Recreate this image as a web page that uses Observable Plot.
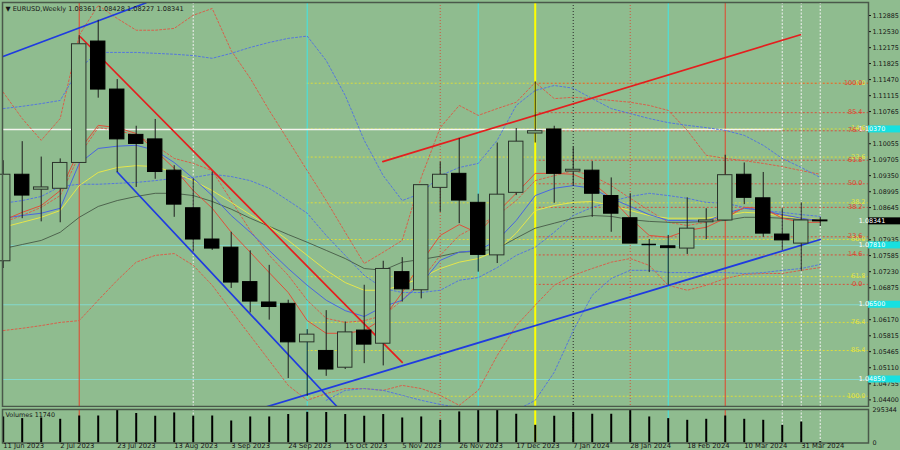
<!DOCTYPE html>
<html><head><meta charset="utf-8">
<script src="https://cdn.jsdelivr.net/npm/d3@7"></script>
<script src="https://cdn.jsdelivr.net/npm/@observablehq/plot@0.6"></script>
<style>
html,body{margin:0;padding:0;background:#8FBC8F;}
#wrap{position:relative;width:900px;height:450px;overflow:hidden;background:#8FBC8F;}
#main,#vol{position:absolute;left:0;}
#main{top:0}
#vol{top:407px}
svg{display:block;overflow:visible}
</style></head><body><div id="wrap"><div id="main"></div><div id="vol"></div></div>
<script>
// ---------- DATA (weekly EURUSD, bar 0 = week of 11 Jun 2023) ----------
const open  = [1.0746,1.0937,1.0904,1.0906,1.0963,1.1231,1.1125,1.1025,1.1015,1.0946,1.0863,1.0794,1.0776,1.0700,1.0655,1.0652,1.0567,1.0548,1.0511,1.0593,1.0564,1.0722,1.0682,1.0908,1.0939,1.0875,1.0759,1.0897,1.1028,1.1037,1.0944,1.0946,1.0890,1.0841,1.0783,1.0779,1.0774,1.0832,1.0836,1.0937,1.0885,1.0805,1.0785,1.08361];
const high  = [1.0968,1.1010,1.0976,1.0972,1.1244,1.1278,1.1147,1.1044,1.1059,1.0957,1.0928,1.0943,1.0810,1.0769,1.0737,1.0660,1.0595,1.0637,1.0612,1.0693,1.0746,1.0754,1.0914,1.0965,1.1017,1.0894,1.1007,1.1039,1.1142,1.1044,1.0998,1.0966,1.0930,1.0895,1.0794,1.0803,1.0886,1.0862,1.0980,1.0963,1.0942,1.0862,1.0875,1.08428];
const low   = [1.0730,1.0840,1.0833,1.0831,1.0962,1.1106,1.0942,1.0909,1.0927,1.0843,1.0766,1.0770,1.0686,1.0632,1.0616,1.0487,1.0448,1.0492,1.0507,1.0520,1.0515,1.0656,1.0663,1.0854,1.0829,1.0722,1.0741,1.0891,1.1007,1.0874,1.0911,1.0843,1.0810,1.0785,1.0721,1.0693,1.0761,1.0794,1.0835,1.0871,1.0799,1.0770,1.0724,1.08227];
const close = [1.0937,1.0891,1.0909,1.0963,1.1225,1.1125,1.1015,1.1005,1.0943,1.0871,1.0794,1.0774,1.0699,1.0657,1.0645,1.0567,1.0584,1.0507,1.0589,1.0562,1.0729,1.0684,1.0914,1.0937,1.0880,1.0760,1.0893,1.1010,1.1033,1.0939,1.0948,1.0895,1.0851,1.0785,1.0783,1.0775,1.0818,1.0836,1.0936,1.0886,1.0807,1.0792,1.0836,1.08341];
const volume = [229500,215000,220600,209000,238000,238000,294000,260000,236000,265000,236000,238000,194000,229500,229500,251000,271000,269000,251000,236000,251000,220600,229500,200000,274000,289000,295344,253500,156000,236000,269000,253500,253500,289000,229500,215000,200000,209000,238000,209000,200000,156000,185000,11740];

// indicator lines
const maRed    = [1.0836,1.0854,1.0869,1.0902,1.0991,1.1046,1.1041,1.1028,1.0991,1.0951,1.0902,1.0863,1.0810,1.0766,1.0721,1.0677,1.0615,1.0587,1.0587,1.0593,1.0620,1.0677,1.0744,1.0803,1.0827,1.0808,1.0854,1.0896,1.0940,1.0940,1.0938,1.0920,1.0885,1.0841,1.0803,1.0799,1.0814,1.0821,1.0841,1.0865,1.0863,1.0841,1.0832,1.0832];
const maBlue   = [1.0841,1.0847,1.0852,1.0863,1.0962,1.0995,1.1000,1.1002,1.0991,1.0964,1.0929,1.0891,1.0847,1.0810,1.0770,1.0730,1.0693,1.0660,1.0637,1.0624,1.0646,1.0660,1.0697,1.0748,1.0766,1.0770,1.0792,1.0836,1.0891,1.0907,1.0913,1.0907,1.0885,1.0867,1.0849,1.0836,1.0836,1.0834,1.0852,1.0863,1.0858,1.0849,1.0841,1.0836];
const maYellow = [1.0821,1.0832,1.0843,1.0858,1.0913,1.0942,1.0953,1.0957,1.0955,1.0942,1.0924,1.0902,1.0876,1.0849,1.0823,1.0792,1.0759,1.0726,1.0699,1.0682,1.0682,1.0693,1.0710,1.0730,1.0744,1.0752,1.0770,1.0808,1.0858,1.0869,1.0876,1.0878,1.0869,1.0858,1.0847,1.0841,1.0841,1.0841,1.0847,1.0854,1.0852,1.0845,1.0841,1.0838];
const maGray   = [1.0774,1.0783,1.0792,1.0810,1.0843,1.0867,1.0880,1.0889,1.0896,1.0896,1.0891,1.0878,1.0861,1.0841,1.0823,1.0805,1.0788,1.0770,1.0752,1.0730,1.0726,1.0744,1.0750,1.0757,1.0766,1.0768,1.0774,1.0797,1.0819,1.0830,1.0841,1.0847,1.0845,1.0838,1.0834,1.0832,1.0832,1.0834,1.0836,1.0843,1.0843,1.0841,1.0838,1.0836];
const bandBlueUp  = [1.1083,1.1088,1.1094,1.1101,1.1172,1.1207,1.1207,1.1207,1.1205,1.1203,1.1200,1.1194,1.1205,1.1218,1.1229,1.1238,1.1243,1.1189,1.1112,1.1013,1.0935,1.0880,1.0896,1.0935,1.0953,1.0962,1.1013,1.1090,1.1123,1.1134,1.1128,1.1105,1.1083,1.1072,1.1061,1.1052,1.1046,1.1041,1.1035,1.1024,1.1002,1.0973,1.0953,1.0931];
const bandBlueLow = [1.0874,1.0880,1.0889,1.0911,1.0916,1.0916,1.0918,1.0920,1.0924,1.0929,1.0931,1.0938,1.0933,1.0924,1.0907,1.0880,1.0852,1.0803,1.0759,1.0715,1.0686,1.0677,1.0677,1.0682,1.0704,1.0710,1.0732,1.0759,1.0777,1.0810,1.0847,1.0865,1.0878,1.0889,1.0896,1.0891,1.0885,1.0876,1.0874,1.0865,1.0858,1.0854,1.0849,1.0845];
const bandBlueLow2 = [null,null,null,null,null,null,null,null,null,null,null,null,null,null,null,null,null,1.0439,1.0461,1.0465,1.0461,1.0450,1.0439,1.0430,1.0423,1.0417,1.0417,1.0417,1.0439,1.0501,1.0593,1.0671,1.0708,1.0726,1.0726,1.0721,1.0721,1.0721,1.0721,1.0719,1.0721,1.0726,1.0730,1.0739];
const bandRedUp  = [1.1119,1.1061,1.1013,1.1061,1.1245,1.1311,1.1282,1.1256,1.1256,1.1260,1.1289,1.1304,1.1211,1.1150,1.1079,1.1013,1.0946,1.0880,1.0810,1.0741,1.0766,1.0792,1.0931,1.1041,1.1090,1.1068,1.1083,1.1097,1.1141,1.1105,1.1108,1.1105,1.1101,1.1097,1.1090,1.1079,1.1035,1.0980,1.0973,1.0968,1.0962,1.0955,1.0946,1.0938];
const bandRedLow = [1.0593,1.0598,1.0604,1.0611,1.0615,1.0660,1.0704,1.0744,1.0759,1.0763,1.0737,1.0693,1.0637,1.0582,1.0527,1.0472,1.0439,1.0454,1.0465,1.0465,1.0461,1.0472,1.0465,1.0450,1.0428,1.0461,1.0538,1.0604,1.0649,1.0693,1.0715,1.0730,1.0744,1.0752,1.0737,1.0693,1.0682,1.0693,1.0708,1.0717,1.0719,1.0719,1.0726,1.0732];
const bandRedMid = [1.0832,1.0847,1.0865,1.0891,1.0980,1.1041,1.1035,1.1024,1.1002,1.0973,1.0962,1.0946,1.0880,1.0814,1.0759,1.0715,1.0660,1.0620,1.0611,1.0615,1.0626,1.0660,1.0704,1.0759,1.0803,1.0825,1.0847,1.0880,1.0924,1.0935,1.0946,1.0935,1.0913,1.0885,1.0858,1.0832,1.0825,1.0832,1.0847,1.0863,1.0858,1.0847,1.0841,1.0836];

// trend lines (bar index, price)
const trendBlueTop  = [{i:-0.14,p:1.1196},{i:7.5,p:1.1316}];
const trendRedDown  = [{i:4.07,p:1.1241},{i:21.0,p:1.0523}];
const trendBlueDown = [{i:6.0,p:1.0943},{i:17.55,p:1.0426}];
const trendBlueUp   = [{i:13.8,p:1.0424},{i:43.0,p:1.0794}];
const trendRedUp    = [{i:19.98,p:1.0966},{i:41.96,p:1.1246}];

// fibonacci
const fibLabels = ["0.0","14.6","23.6","38.2","50.0","61.8","76.4","85.4","100.0"];
const fibYellowPrices = [1.1139,1.1038,1.0976,1.0875,1.0794,1.0712,1.0611,1.0549,1.0448];
const fibYellowStart = 16;
const fibRedPrices = [1.0695,1.0760,1.0800,1.0865,1.0917,1.0969,1.1034,1.1074,1.1139];
const fibRedStart = 28;

// horizontal levels
const whiteLevel = {p:1.1037, end:41};
const cyanLevels = [1.0781,1.0650,1.0485];
const axisTags = [
  {p:1.10370, t:"1.10370", bg:"#16e0e0"},
  {p:1.08341, t:"1.08341", bg:"#000000"},
  {p:1.07810, t:"1.07810", bg:"#16e0e0"},
  {p:1.06500, t:"1.06500", bg:"#16e0e0"},
  {p:1.04850, t:"1.04850", bg:"#16e0e0"}
];

// vertical lines (bar index)
const vRedSolid = [4,38];
const vCyan = [16,25,35];
const vRedDot = [23,33];
const vWhiteDot = [10,41,42,43];
const vBlackDot = [30];
const vYellow = [28];

// visible price-axis labels (those hidden under the tags are left out)
const priceTicks = [1.12885,1.12530,1.12175,1.11825,1.11470,1.11115,1.10765,1.10055,1.09705,1.09350,1.08995,1.08645,1.07935,1.07585,1.07230,1.06875,1.06170,1.05815,1.05465,1.05110,1.04755,1.04400];
const dateTickBars = [0,3,6,9,12,15,18,21,24,27,30,33,36,39,42];
const dateTickLabels = ["11 Jun 2023","2 Jul 2023","23 Jul 2023","13 Aug 2023","3 Sep 2023","24 Sep 2023","15 Oct 2023","5 Nov 2023","26 Nov 2023","17 Dec 2023","7 Jan 2024","28 Jan 2024","18 Feb 2024","10 Mar 2024","31 Mar 2024"];
const volMax = 295344;

// ---------- CHART ----------
const BG = "#8FBC8F";
const FRAME = "#4a584a";
const FONT = "'DejaVu Sans', Verdana, sans-serif";
const W = 900, ML = 2, MR = 32;
const xDomain = [-0.037, 45.54];
const yDomain = [1.04254, 1.13172];

const bars = close.map((c,i)=>({i, o:open[i], h:high[i], l:low[i], c, v:volume[i]}));
const ser = a => a.map((p,i)=>({i,p})).filter(d=>d.p!=null);
const fibY = fibYellowPrices.map((p,k)=>({p, label:fibLabels[k]}));
const fibR = fibRedPrices.map((p,k)=>({p, label:fibLabels[k]}));

const line = (a, stroke, dash) => Plot.line(ser(a), {x:"i", y:"p", stroke, strokeWidth:1, strokeDasharray:dash, clip:true});
const trend = (a, stroke) => Plot.line(a, {x:"i", y:"p", stroke, strokeWidth:1.7, clip:true});

const verticals = () => [
  Plot.ruleX(vWhiteDot, {x:d=>d, stroke:"#f2f2f2", strokeWidth:1, strokeDasharray:"2,1.5"}),
  Plot.ruleX(vBlackDot, {x:d=>d, stroke:"#2a2a2a", strokeWidth:1, strokeDasharray:"1,2"}),
  Plot.ruleX(vRedDot, {x:d=>d, stroke:"#d0553f", strokeWidth:1, strokeDasharray:"1,2"}),
  Plot.ruleX(vCyan, {x:d=>d, stroke:"#3fe6e6", strokeWidth:1}),
  Plot.ruleX(vRedSolid, {x:d=>d, stroke:"#e2462c", strokeWidth:1}),
  Plot.ruleX(vYellow, {x:d=>d, stroke:"#ffff00", strokeWidth:2})
];

const main = Plot.plot({
  width: W, height: 408, marginLeft: ML, marginRight: MR, marginTop: 2, marginBottom: 2,
  style: {background: BG, fontFamily: FONT, fontSize: "6.5px", overflow: "visible"},
  x: {domain: xDomain, axis: null, label: null},
  y: {domain: yDomain, axis: null, label: null},
  marks: [
    Plot.ruleY(cyanLevels, {y:d=>d, stroke:"#7fe3df", strokeWidth:1, strokeOpacity:0.75}),
    Plot.ruleY(fibY, {y:"p", x1:fibYellowStart, x2:xDomain[1], stroke:"#dcdc3c", strokeWidth:1, strokeDasharray:"2,2"}),
    Plot.ruleY(fibR, {y:"p", x1:fibRedStart, x2:xDomain[1], stroke:"#d8503c", strokeWidth:1, strokeDasharray:"2,2"}),
    ...verticals(),
    Plot.ruleY([whiteLevel], {y:"p", x1:xDomain[0], x2:"end", stroke:"#f4f4f0", strokeWidth:1.4}),
    line(bandRedUp, "#d8604a", "2,2"),
    line(bandRedLow, "#d8604a", "2,2"),
    line(bandRedMid, "#d8604a", "2,2"),
    line(bandBlueUp, "#5577dd", "2,2"),
    line(bandBlueLow, "#5577dd", "2,2"),
    line(bandBlueLow2, "#5577dd", "2,2"),
    line(maGray, "#4e644e"),
    line(maYellow, "#e6e64a"),
    line(maBlue, "#4a66e0"),
    line(maRed, "#e0503a"),
    trend(trendBlueTop, "#1f3be0"),
    trend(trendRedDown, "#e41e1e"),
    trend(trendBlueDown, "#1f3be0"),
    trend(trendBlueUp, "#1f3be0"),
    trend(trendRedUp, "#e41e1e"),
    // candles on foreground
    Plot.ruleX(bars, {x:"i", y1:"l", y2:"h", stroke:"#1c1c1c", strokeWidth:1}),
    Plot.rect(bars, {x1:d=>d.i-0.38, x2:d=>d.i+0.38, y1:"o", y2:"c",
      fill:d=>d.c<d.o?"#000":BG, stroke:d=>d.c<d.o?"#000":"#2b332b", strokeWidth:1}),
    Plot.ruleY(bars.filter(d=>Math.abs(d.o-d.c)<0.00015), {y:"c", x1:d=>d.i-0.38, x2:d=>d.i+0.38, stroke:"#000", strokeWidth:1.5}),
    // fib labels
    Plot.text(fibY, {y:"p", text:"label", frameAnchor:"right", textAnchor:"end", dx:-3, lineAnchor:"bottom", dy:1.5, fill:"#e4e440", fontSize:6.5}),
    Plot.text(fibR, {y:"p", text:"label", frameAnchor:"right", textAnchor:"end", dx:-6, lineAnchor:"bottom", dy:1.5, fill:"#e0402c", fontSize:6.5}),
    Plot.frame({stroke: FRAME, strokeWidth: 1.5}),
    Plot.axisY({anchor:"right", ticks: priceTicks, tickFormat: d=>d.toFixed(5), tickSize:2, tickPadding:2, color:"#161616", fontSize:6.4, label:null}),
    Plot.text([`▼ EURUSD,Weekly ${open[43].toFixed(5)} ${high[43].toFixed(5)} ${low[43].toFixed(5)} ${close[43].toFixed(5)}`],
      {frameAnchor:"top-left", dx:3, dy:4, textAnchor:"start", fill:"#161616", fontSize:6.6})
  ]
});
document.getElementById("main").appendChild(main);

// price tags on the right axis, placed through Plot's y scale
const ySc = main.scale("y");
const tagG = d3.select(main).append("g");
axisTags.forEach(t => {
  const yy = ySc.apply(t.p);
  tagG.append("rect").attr("x", W-MR).attr("y", yy-3.5).attr("width", MR).attr("height", 7).attr("fill", t.bg);
  tagG.append("text").attr("x", W-MR+4).attr("y", yy).attr("dy","0.35em")
    .attr("fill", "#ffffff").attr("font-size", 6.4).attr("font-family", FONT).text(t.t);
});

const vol = Plot.plot({
  width: W, height: 43, marginLeft: ML, marginRight: MR, marginTop: 2, marginBottom: 7.5,
  style: {background: BG, fontFamily: FONT, fontSize: "6.5px", overflow: "visible"},
  x: {domain: xDomain, axis: null, label: null},
  y: {domain: [0, volMax], axis: null, label: null},
  marks: [
    ...verticals(),
    Plot.ruleX(bars, {x:"i", y1:0, y2:"v", stroke:"#000", strokeWidth:2}),
    Plot.frame({stroke: FRAME, strokeWidth: 1.5}),
    Plot.axisX({anchor:"bottom", ticks: dateTickBars, tickFormat: i=>dateTickLabels[dateTickBars.indexOf(i)], tickSize:0, tickPadding:0, textAnchor:"start", color:"#161616", fontSize:6.8, label:null}),
    Plot.axisY({anchor:"right", ticks:[0, volMax], tickFormat:d=>String(d), tickSize:0, tickPadding:4, color:"#161616", fontSize:6.4, label:null}),
    Plot.text([`Volumes ${volume[43]}`], {frameAnchor:"top-left", dx:3, dy:2.5, textAnchor:"start", fill:"#161616", fontSize:6.4})
  ]
});
document.getElementById("vol").appendChild(vol);
</script></body></html>
